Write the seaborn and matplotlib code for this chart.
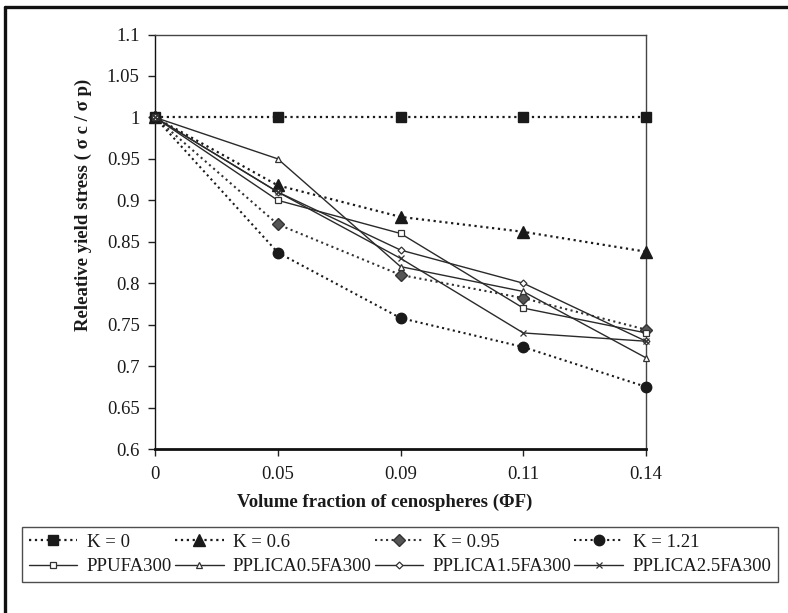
import matplotlib
matplotlib.use("Agg")
import matplotlib.pyplot as plt
import matplotlib.lines as mlines
import seaborn as sns
import pandas as pd
import numpy as np

categories = ["0", "0.05", "0.09", "0.11", "0.14"]

k0 = [1.0, 1.0, 1.0, 1.0, 1.0]
k06 = [1.0, 0.918, 0.880, 0.862, 0.838]
k095 = [1.0, 0.871, 0.810, 0.782, 0.744]
k121 = [1.0, 0.837, 0.758, 0.723, 0.675]
ppufa300 = [1.0, 0.90, 0.86, 0.77, 0.74]
pplica05 = [1.0, 0.95, 0.82, 0.79, 0.71]
pplica15 = [1.0, 0.91, 0.84, 0.80, 0.73]
pplica25 = [1.0, 0.91, 0.83, 0.74, 0.73]

y_ticks = [0.6, 0.65, 0.7, 0.75, 0.8, 0.85, 0.9, 0.95, 1.0, 1.05, 1.1]
y_ticklabels = ["0.6", "0.65", "0.7", "0.75", "0.8", "0.85", "0.9", "0.95", "1", "1.05", "1.1"]

sns.set_style("white")
plt.rcParams["font.family"] = ["Liberation Serif", "DejaVu Serif"]

fig = plt.figure(figsize=(7.88, 6.13), dpi=100)
ax = fig.add_axes([155 / 788, 1 - 449 / 613, (646 - 155) / 788, (449 - 34.5) / 613])

series = [
    ("K = 0", k0, dict(ls=":", marker="s", ms=7, mfc="#1a1a1a", mec="#1a1a1a", lw=1.6, color="#1a1a1a")),
    ("K = 0.6", k06, dict(ls=":", marker="^", ms=8, mfc="#1a1a1a", mec="#1a1a1a", lw=1.6, color="#1a1a1a")),
    ("K = 0.95", k095, dict(ls=":", marker="D", ms=6.5, mfc="#555555", mec="#333333", lw=1.5, color="#333333")),
    ("K = 1.21", k121, dict(ls=":", marker="o", ms=7.5, mfc="#1a1a1a", mec="#1a1a1a", lw=1.5, color="#1a1a1a")),
    ("PPUFA300", ppufa300, dict(ls="-", marker="s", ms=4, mfc="white", mec="#333333", mew=0.9, lw=1.0, color="#2a2a2a")),
    ("PPLICA0.5FA300", pplica05, dict(ls="-", marker="^", ms=4.5, mfc="white", mec="#333333", mew=0.9, lw=1.0, color="#2a2a2a")),
    ("PPLICA1.5FA300", pplica15, dict(ls="-", marker="D", ms=3.5, mfc="white", mec="#333333", mew=0.9, lw=1.0, color="#2a2a2a")),
    ("PPLICA2.5FA300", pplica25, dict(ls="-", marker="x", ms=4, mfc="#333333", mec="#333333", mew=0.9, lw=1.0, color="#2a2a2a")),
]

handles = {}
xpos = np.arange(len(categories))
for name, vals, st in series:
    df = pd.DataFrame({"x": xpos, "y": vals})
    sns.lineplot(data=df, x="x", y="y", ax=ax, color=st["color"], linestyle=st["ls"],
                 linewidth=st["lw"], marker=st["marker"], markersize=st["ms"],
                 markerfacecolor=st["mfc"], markeredgecolor=st["mec"],
                 markeredgewidth=st.get("mew", 1.0), clip_on=False, zorder=3)
    handles[name] = mlines.Line2D([], [], color=st["color"], linestyle=st["ls"], linewidth=st["lw"],
                                  marker=st["marker"], markersize=st["ms"], markerfacecolor=st["mfc"],
                                  markeredgecolor=st["mec"], markeredgewidth=st.get("mew", 1.0))

ax.set_xlim(0, len(categories) - 1)
ax.set_ylim(0.6, 1.1)
ax.set_xticks(xpos)
ax.set_xticklabels(categories)
ax.set_yticks(y_ticks)
ax.set_yticklabels(y_ticklabels)
ax.tick_params(axis="both", direction="out", length=5, width=1, color="#222222",
               labelsize=13.5, labelcolor="#1a1a1a", pad=6)
ax.tick_params(axis="x", pad=7)
ax.tick_params(left=True, bottom=True)

for side in ["top", "right"]:
    ax.spines[side].set_color("#444444")
    ax.spines[side].set_linewidth(1.0)
ax.spines["left"].set_color("#111111")
ax.spines["left"].set_linewidth(1.0)
ax.spines["bottom"].set_color("#111111")
ax.spines["bottom"].set_linewidth(2.0)

ax.set_xlabel("Volume fraction of cenospheres (\u03a6F)", fontsize=13.5, fontweight="bold",
              color="#1a1a1a")
ax.set_ylabel("Releative yield stress ( \u03c3 c / \u03c3 p)", fontsize=13.5, fontweight="bold",
              color="#1a1a1a")
ax.xaxis.set_label_coords(0.468, -0.107)
ax.yaxis.set_label_coords(-0.128, 0.59)

order = ["K = 0", "PPUFA300", "K = 0.6", "PPLICA0.5FA300",
         "K = 0.95", "PPLICA1.5FA300", "K = 1.21", "PPLICA2.5FA300"]
leg = fig.legend([handles[n] for n in order], order, loc="upper left", ncol=4,
                 bbox_to_anchor=(22 / 788, 1 - 583 / 613, (778 - 22) / 788, (583 - 527) / 613),
                 mode="expand", fontsize=13.5, frameon=True, fancybox=False,
                 handlelength=2.6, handletextpad=0.5, columnspacing=0.6, labelspacing=0.4,
                 borderpad=0.35, borderaxespad=0)
leg.get_frame().set_edgecolor("#222222")
leg.get_frame().set_linewidth(1.0)
for t in leg.get_texts():
    t.set_color("#1a1a1a")

# outer frame (top and left edges)
fig.add_artist(mlines.Line2D([5 / 788, 1], [1 - 7 / 613, 1 - 7 / 613], transform=fig.transFigure,
                             color="#111111", linewidth=2.4))
fig.add_artist(mlines.Line2D([5 / 788, 5 / 788], [0, 1 - 7 / 613], transform=fig.transFigure,
                             color="#111111", linewidth=2.4))

fig.savefig("out.png", dpi=100)
